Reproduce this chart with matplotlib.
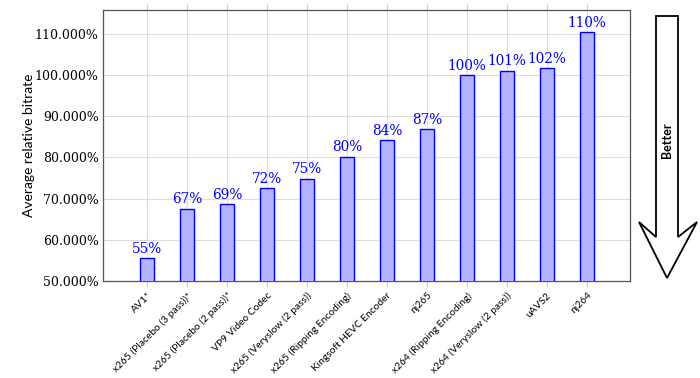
import matplotlib
matplotlib.use("Agg")
import matplotlib.pyplot as plt
from matplotlib.patches import Polygon
import numpy as np

# codecs and their average relative bitrate (%)
encoders = ["AV1*", "x265 (Placebo (3 pass))*", "x265 (Placebo (2 pass))*",
            "VP9 Video Codec", "x265 (Veryslow (2 pass))", "x265 (Ripping Encoding)",
            "Kingsoft HEVC Encoder", "nj265", "x264 (Ripping Encoding)",
            "x264 (Veryslow (2 pass))", "uAVS2", "nj264"]
bitrate = [55.5, 67.5, 68.7, 72.5, 74.8, 80.2, 84.2, 86.8, 100.0, 101.0, 101.7, 110.4]
value_labels = ["55%", "67%", "69%", "72%", "75%", "80%", "84%", "87%",
                "100%", "101%", "102%", "110%"]
yticks = [50, 60, 70, 80, 90, 100, 110]

fig = plt.figure(figsize=(7, 3.78), dpi=100)
ax = fig.add_axes([0.147, 0.2566, 0.753, 0.717])

x = np.arange(len(encoders))
ax.bar(x, bitrate, width=0.35, bottom=0, color="#b3b3ff", edgecolor="#0000ff",
       linewidth=1.0, zorder=3)

for xi, v, lab in zip(x, bitrate, value_labels):
    ax.text(xi, v + 0.6, lab, ha="center", va="bottom", color="#0000ff",
            fontsize=9.8, family="DejaVu Serif", zorder=4)

ax.set_xlim(-1.1, len(encoders) - 1 + 1.08)
ax.set_ylim(50, 115.8)
ax.set_yticks(yticks)
ax.set_yticklabels(["%.3f%%" % t for t in yticks], family="DejaVu Serif", fontsize=9)
ax.set_xticks(x)
ax.set_xticklabels(encoders, rotation=45, ha="right", rotation_mode="anchor",
                   fontsize=7.4, family="Lato")
ax.tick_params(axis="x", direction="out", length=4, color="#cccccc", top=True, pad=3)
ax.tick_params(axis="y", direction="in", length=0, pad=3)
ax.grid(True, color="#dddddd", linewidth=0.8, zorder=0)
for s in ax.spines.values():
    s.set_color("#555555")
    s.set_linewidth(0.9)
ax.set_ylabel("Average relative bitrate", family="Lato", fontsize=10, labelpad=0)

# "Better" arrow on the right
px = [(656, 16), (678, 16), (678, 237), (697, 222), (667, 278), (639, 222), (656, 237)]
pts = [(a / 700, 1 - b / 378) for a, b in px]
fig.patches.append(Polygon(pts, closed=True, fill=False, edgecolor="black",
                           linewidth=1.3, transform=fig.transFigure))
fig.text(667 / 700, 1 - 140 / 378, "Better", rotation=90, ha="center", va="center",
         fontsize=9, fontweight="bold", family="Lato")

fig.savefig("out.png", dpi=100)
